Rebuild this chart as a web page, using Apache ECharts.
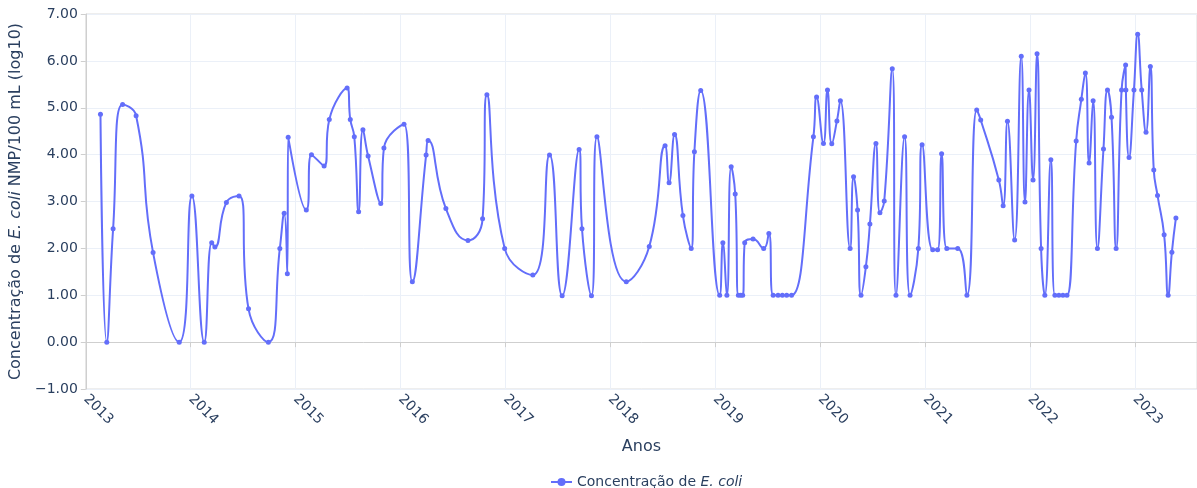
<!DOCTYPE html>
<html><head><meta charset="utf-8">
<script src="https://cdn.jsdelivr.net/npm/echarts@6/dist/echarts.min.js"></script>
<style>html,body{margin:0;padding:0;background:#fff}#c{width:1197px;height:488px}</style>
</head><body><div id="c"></div>
<script>
const dates = [
'2013-02-21','2013-03-15','2013-04-06','2013-05-09','2013-06-25','2013-08-23','2013-11-22',
'2014-01-05','2014-02-17','2014-03-15','2014-03-26','2014-05-05','2014-06-18','2014-07-21','2014-09-28','2014-11-07','2014-11-22','2014-12-03','2014-12-06',
'2015-02-07','2015-02-25','2015-04-10','2015-04-28','2015-06-29','2015-07-10','2015-07-24','2015-08-08','2015-08-23','2015-09-10','2015-10-24','2015-11-04',
'2016-01-13','2016-02-11','2016-03-30','2016-04-06','2016-06-07','2016-08-23','2016-10-13','2016-10-28','2016-12-29',
'2017-04-06','2017-06-03','2017-07-17','2017-09-14','2017-09-24','2017-10-27','2017-11-15',
'2018-02-25','2018-05-16','2018-07-10','2018-07-24','2018-08-12','2018-09-10','2018-10-09','2018-10-20','2018-11-11',
'2019-01-16','2019-01-27','2019-02-10','2019-02-25','2019-03-11','2019-03-22','2019-03-30','2019-04-06','2019-04-13','2019-05-12','2019-06-18','2019-07-06','2019-07-21','2019-08-07','2019-08-22','2019-09-06','2019-09-23','2019-12-08','2019-12-19',
'2020-01-12','2020-01-26','2020-02-10','2020-02-28','2020-03-11','2020-04-14','2020-04-26','2020-05-10','2020-05-22','2020-06-08','2020-06-22','2020-07-13','2020-07-27','2020-08-11','2020-09-08','2020-09-21','2020-10-21','2020-11-09','2020-12-08','2020-12-21',
'2021-01-27','2021-02-13','2021-02-27','2021-03-17','2021-04-24','2021-05-26','2021-06-29','2021-07-13','2021-09-14','2021-09-29','2021-10-14','2021-11-08','2021-12-01','2021-12-14','2021-12-28',
'2022-01-11','2022-01-25','2022-02-08','2022-02-21','2022-03-14','2022-03-28','2022-04-11','2022-04-25','2022-05-09','2022-06-10','2022-06-28','2022-07-12','2022-07-25','2022-08-08','2022-08-23','2022-09-13','2022-09-27','2022-10-11','2022-10-27','2022-11-15','2022-11-29','2022-11-30','2022-12-11','2022-12-28',
'2023-01-10','2023-01-24','2023-02-08','2023-02-23','2023-03-07','2023-03-20','2023-04-12','2023-04-26','2023-05-09','2023-05-23'
];
const values = [
4.86,0.00,2.42,5.07,4.83,1.91,0.00,
3.12,0.00,2.12,2.03,2.98,3.12,0.71,0.00,2.00,2.75,1.46,4.37,
2.82,4.00,3.76,4.75,5.42,4.75,4.38,2.78,4.53,3.97,2.96,4.14,
4.65,1.29,3.99,4.30,2.85,2.17,2.63,5.28,2.00,
1.43,3.99,0.99,4.11,2.42,0.99,4.38,
1.29,2.04,4.19,3.40,4.43,2.70,2.00,4.06,5.37,
1.00,2.12,1.00,3.74,3.16,1.00,1.00,1.00,2.12,2.20,2.00,2.32,1.00,1.00,1.00,1.00,1.00,4.38,5.23,
4.24,5.38,4.23,4.72,5.15,2.00,3.53,2.82,1.00,1.61,2.52,4.24,2.76,3.01,5.83,1.00,4.38,1.00,2.00,4.21,
1.97,1.97,4.02,2.00,2.00,1.00,4.95,4.74,3.46,2.91,4.71,2.18,6.10,2.99,5.38,
3.46,6.15,2.00,1.00,3.89,1.00,1.00,1.00,1.00,4.29,5.18,5.74,3.82,5.15,2.00,4.12,5.38,4.80,2.00,5.38,5.91,5.38,3.94,5.38,
6.57,5.38,4.48,5.88,3.67,3.13,2.29,1.00,1.92,2.65
];
const yearTicks = [2013,2014,2015,2016,2017,2018,2019,2020,2021,2022,2023];
const yTicks = [-1,0,1,2,3,4,5,6,7];

function decYear(s){
  const p = s.split('-').map(Number);
  const t = Date.UTC(p[0], p[1]-1, p[2]);
  const a = Date.UTC(p[0],0,1), b = Date.UTC(p[0]+1,0,1);
  return p[0] + (t-a)/(b-a);
}
const pts = dates.map((d,i)=>[decYear(d), values[i]]);

const FONT = 'DejaVu Sans';
const TXT = '#2a3f5f';
const chart = echarts.init(document.getElementById('c'), null, {renderer:'canvas'});
chart.setOption({
  animation:false,
  backgroundColor:'#fff',
  textStyle:{fontFamily:FONT},
  grid:{left:83, top:14, right:-2, bottom:99, show:true, borderColor:'#dcdcdc', borderWidth:1, containLabel:false},
  xAxis:{
    type:'value', min:yearTicks[0], max:2023.59, interval:1,
    name:'Anos', nameLocation:'middle', nameGap:50,
    nameTextStyle:{fontFamily:FONT, fontSize:16, color:TXT},
    axisLine:{show:true, lineStyle:{color:'#cfcfcf', width:1}},
    axisTick:{show:true, length:5, lineStyle:{color:'#cfcfcf'}},
    axisLabel:{rotate:-45, margin:8, fontFamily:FONT, fontSize:14, color:TXT, showMaxLabel:false,
      formatter:v=> yearTicks.indexOf(Math.round(v))>=0 && Math.abs(v-Math.round(v))<1e-6 ? String(Math.round(v)) : ''},
    splitLine:{show:true, lineStyle:{color:'#ebf0f8', width:1}}
  },
  yAxis:{
    type:'value', min:yTicks[0], max:yTicks[yTicks.length-1], interval:1,
    name:'{n|Concentração de }{i|E. coli}{n| NMP/100 mL (log10)}',
    nameLocation:'middle', nameGap:53, nameRotate:90,
    nameTextStyle:{rich:{n:{fontFamily:FONT,fontSize:16,color:TXT}, i:{fontFamily:FONT,fontSize:16,color:TXT,fontStyle:'italic'}}},
    axisLine:{show:true, lineStyle:{color:'#cfcfcf', width:1}},
    axisTick:{show:true, length:5, lineStyle:{color:'#cfcfcf'}},
    axisLabel:{margin:8, fontFamily:FONT, fontSize:14, color:TXT,
      formatter:v=> v<0 ? '\u2212'+Math.abs(v).toFixed(2) : v.toFixed(2)},
    splitLine:{show:true, lineStyle:{color:'#ebf0f8', width:1}}
  },
  legend:{
    top:470, left:545, itemWidth:21, itemHeight:10, itemGap:10,
    textStyle:{rich:{n:{fontFamily:FONT,fontSize:14,color:TXT}, i:{fontFamily:FONT,fontSize:14,color:TXT,fontStyle:'italic'}}},
    formatter:()=> '{n|Concentração de }{i|E. coli}'
  },
  series:[{
    name:'Concentração de E. coli', type:'line', data:pts, smooth:0.5,
    symbol:'circle', symbolSize:5, showSymbol:true,
    lineStyle:{color:'#636efa', width:2},
    itemStyle:{color:'#636efa'}
  }]
});
</script></body></html>
